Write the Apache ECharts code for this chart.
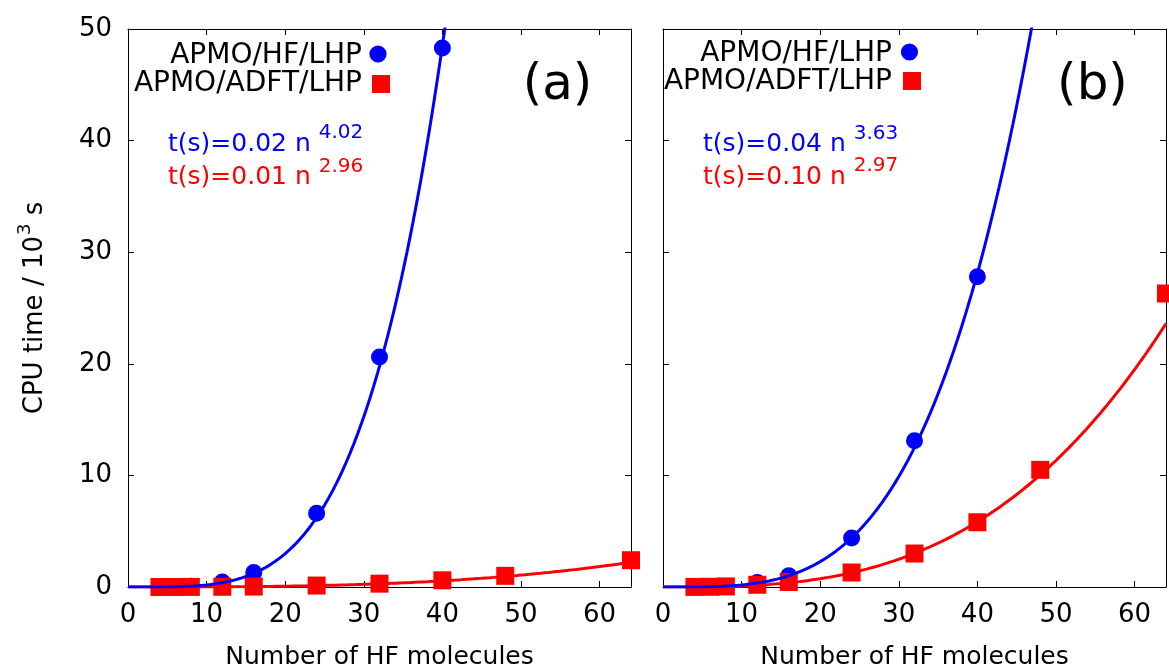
<!DOCTYPE html>
<html>
<head>
<meta charset="utf-8">
<title>CPU time scaling</title>
<script src="https://cdn.jsdelivr.net/npm/echarts@6/dist/echarts.min.js"></script>
<style>
  html, body { margin: 0; padding: 0; background: #fff; }
  #chart { width: 1169px; height: 669px; }
</style>
</head>
<body>
<div id="chart"></div>
<script>
// ---- data: CPU time in 10^3 s versus number of HF molecules ----
// panel (a)
const hfSizesA   = [4, 6, 8, 12, 16, 24, 32, 40];
const hfTimesA   = [0.01, 0.02, 0.06, 0.45, 1.3, 6.6, 20.6, 48.3];
const dftSizesA  = [4, 6, 8, 12, 16, 24, 32, 40, 48, 64];
const dftTimesA  = [0.0, 0.0, 0.01, 0.02, 0.04, 0.13, 0.3, 0.6, 1.0, 2.4];
// panel (b)
const hfSizesB   = [4, 6, 8, 12, 16, 24, 32, 40];
const hfTimesB   = [0.01, 0.03, 0.06, 0.4, 1.0, 4.4, 13.1, 27.8];
const dftSizesB  = [4, 6, 8, 12, 16, 24, 32, 40, 48, 64];
const dftTimesB  = [0.01, 0.02, 0.05, 0.2, 0.45, 1.3, 3.0, 5.8, 10.5, 26.3];

// power-law fits t(s) = coef * n^power (seconds)
const fitHfA  = { coef: 0.0176, power: 4.02 };
const fitDftA = { coef: 0.010,  power: 2.96 };
const fitHfB  = { coef: 0.043,  power: 3.63 };
const fitDftB = { coef: 0.102,  power: 2.97 };

const xTicks = { min: 0, max: 64, interval: 10 };
const yTicks = { min: 0, max: 50, interval: 10 };

const seriesNames = ['APMO/HF/LHP', 'APMO/ADFT/LHP'];
const panelLabels = ['(a)', '(b)'];

// ---- styling ----
const FONT = 'DejaVu Sans';
const BLUE = '#0000ff';
const RED = '#ff0000';
const BLACK = '#000000';

const grids = [
  { left: 128, top: 29, width: 503, height: 558 },
  { left: 663, top: 29, width: 503, height: 558 }
];

function zip(xs, ys) { return xs.map((x, i) => [x, ys[i]]); }

// sample a fitted power law over the x range, converted to 10^3 s
function fitCurve(fit) {
  const pts = [];
  for (let i = 0; i <= xTicks.max * 4; i++) {
    const n = i / 4;
    const t = fit.coef * Math.pow(n, fit.power) / 1000;
    pts.push([n, t]);
    if (t > yTicks.max * 1.2) break;
  }
  return pts;
}

const tickStyle = { show: true, inside: true, length: 6, lineStyle: { color: BLACK, width: 1 } };
const lineStyle = { show: true, onZero: false, lineStyle: { color: BLACK, width: 1 } };

const xAxis = [];
const yAxis = [];
grids.forEach((g, gi) => {
  xAxis.push({
    type: 'value', gridIndex: gi, position: 'bottom', ...xTicks,
    axisLine: lineStyle, axisTick: tickStyle, splitLine: { show: false },
    axisLabel: { show: true, margin: 15, showMaxLabel: false, fontFamily: FONT, fontSize: 26, color: BLACK },
    name: 'Number of HF molecules', nameLocation: 'middle', nameGap: 58,
    nameTextStyle: { fontFamily: FONT, fontSize: 25, color: BLACK }
  });
  xAxis.push({
    type: 'value', gridIndex: gi, position: 'top', ...xTicks,
    axisLine: lineStyle, axisTick: tickStyle, splitLine: { show: false },
    axisLabel: { show: false }
  });
  const left = {
    type: 'value', gridIndex: gi, position: 'left', ...yTicks,
    axisLine: lineStyle, axisTick: tickStyle, splitLine: { show: false },
    axisLabel: { show: gi === 0, margin: 16, fontFamily: FONT, fontSize: 26, color: BLACK }
  };
  if (gi === 0) {
    left.name = '{m|CPU time / 10}{s|3}{m| s}';
    left.nameLocation = 'middle';
    left.nameGap = 80;
    left.nameTextStyle = {
      rich: {
        m: { fontFamily: FONT, fontSize: 26, color: BLACK, verticalAlign: 'bottom', lineHeight: 32 },
        s: { fontFamily: FONT, fontSize: 18, color: BLACK, verticalAlign: 'bottom', padding: [0, 0, 14, 1] }
      }
    };
  }
  yAxis.push(left);
  yAxis.push({
    type: 'value', gridIndex: gi, position: 'right', ...yTicks,
    axisLine: lineStyle, axisTick: tickStyle, splitLine: { show: false },
    axisLabel: { show: false }
  });
});

function panelSeries(gi, hfPts, dftPts, fitHf, fitDft) {
  const xi = gi * 2, yi = gi * 2;
  return [
    { name: seriesNames[0], type: 'scatter', xAxisIndex: xi, yAxisIndex: yi, z: 2,
      symbol: 'circle', symbolSize: 17, clip: false, itemStyle: { color: BLUE, opacity: 1 }, data: hfPts },
    { name: seriesNames[1], type: 'scatter', xAxisIndex: xi, yAxisIndex: yi, z: 3,
      symbol: 'rect', symbolSize: 18, clip: false, itemStyle: { color: RED, opacity: 1 }, data: dftPts },
    { name: 'fit ADFT', type: 'line', xAxisIndex: xi, yAxisIndex: yi, z: 4, clip: true,
      showSymbol: false, lineStyle: { color: RED, width: 3 }, data: fitCurve(fitDft) },
    { name: 'fit HF', type: 'line', xAxisIndex: xi, yAxisIndex: yi, z: 5, clip: true,
      showSymbol: false, lineStyle: { color: BLUE, width: 3 }, data: fitCurve(fitHf) }
  ];
}

const series = [
  ...panelSeries(0, zip(hfSizesA, hfTimesA), zip(dftSizesA, dftTimesA), fitHfA, fitDftA),
  ...panelSeries(1, zip(hfSizesB, hfTimesB), zip(dftSizesB, dftTimesB), fitHfB, fitDftB)
];

// ---- annotations: key, fit equations, panel letters ----
function keyText(text, x, y) {
  return { type: 'text', x: x, y: y, silent: true,
    style: { text: text, fill: BLACK, font: '28px "' + FONT + '"', textAlign: 'right', textVerticalAlign: 'middle' } };
}
function keyCircle(cx, cy, color) {
  return { type: 'circle', silent: true, shape: { cx: cx, cy: cy, r: 8.6 }, style: { fill: color } };
}
function keyRect(cx, cy, color) {
  return { type: 'rect', silent: true, shape: { x: cx - 9, y: cy - 9, width: 18, height: 18 }, style: { fill: color } };
}
function fitText(fit, color, x, baseline, raise) {
  return { type: 'text', x: x, y: baseline + 5.1, silent: true,
    style: {
      text: '{m|t(s)=' + fit.coef.toFixed(2) + ' n}{s|' + fit.power.toFixed(2) + '}',
      textAlign: 'left', textVerticalAlign: 'bottom',
      rich: {
        m: { fontFamily: FONT, fontSize: 25, fill: color, verticalAlign: 'bottom', lineHeight: 30 },
        s: { fontFamily: FONT, fontSize: 20, fill: color, verticalAlign: 'bottom', padding: [0, 0, raise + 1, 8] }
      }
    } };
}
function panelText(text, x, y) {
  return { type: 'text', x: x, y: y, silent: true,
    style: { text: text, fill: BLACK, font: '50px "' + FONT + '"', textAlign: 'center', textVerticalAlign: 'middle' } };
}

const graphic = [
  keyText(seriesNames[0], 362, 55.7), keyCircle(378, 54, BLUE),
  keyText(seriesNames[1], 362, 83.4), keyRect(381, 84, RED),
  fitText(fitHfA, BLUE, 168, 152.3, 14),
  fitText(fitDftA, RED, 168, 185, 12.3),
  panelText(panelLabels[0], 557.5, 86),

  keyText(seriesNames[0], 892, 53.6), keyCircle(909.5, 52, BLUE),
  keyText(seriesNames[1], 892, 81.9), keyRect(912, 81, RED),
  fitText(fitHfB, BLUE, 703, 151.7, 12.5),
  fitText(fitDftB, RED, 703, 185, 13.3),
  panelText(panelLabels[1], 1092.5, 86)
];

const chart = echarts.init(document.getElementById('chart'), null, { renderer: 'canvas' });
chart.setOption({
  animation: false,
  backgroundColor: '#ffffff',
  grid: grids.map(g => ({ ...g, containLabel: false, outerBoundsMode: 'none', show: false })),
  xAxis: xAxis,
  yAxis: yAxis,
  series: series,
  graphic: graphic
});
</script>
</body>
</html>
